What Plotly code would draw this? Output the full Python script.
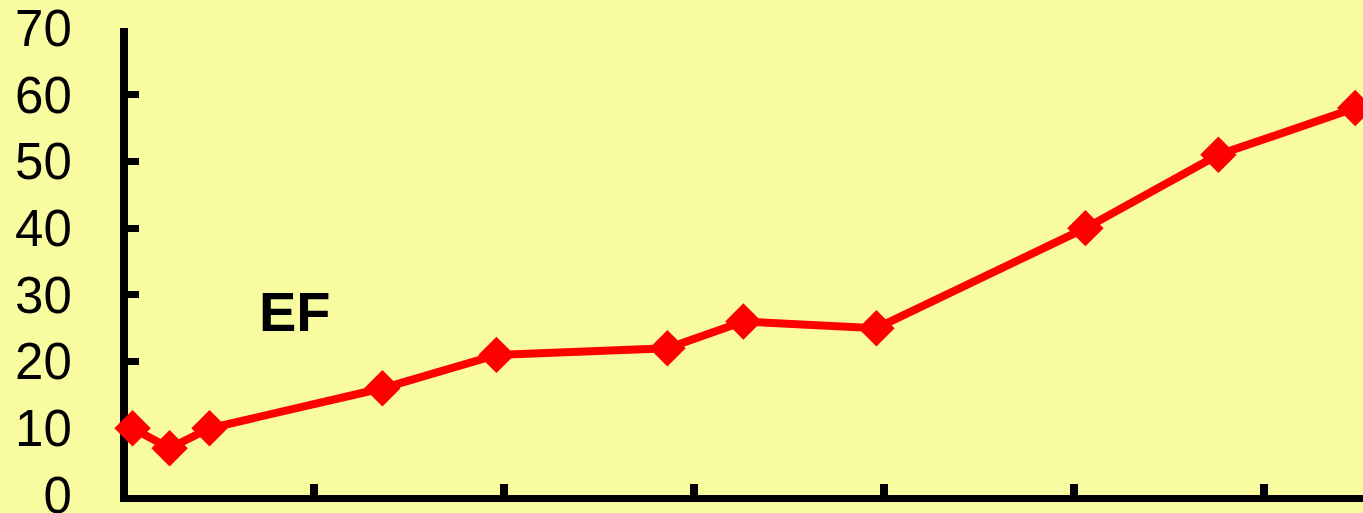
import plotly.graph_objects as go

# Data
x_vals = [0.45, 2.4, 4.5, 13.6, 19.6, 28.6, 32.6, 39.6, 50.6, 57.6, 64.8]
ef_vals = [10, 7, 10, 16, 21, 22, 26, 25, 40, 51, 58]
y_ticks = [0, 10, 20, 30, 40, 50, 60, 70]
x_ticks = [10, 20, 30, 40, 50, 60]

BG = "#F9FBA1"

fig = go.Figure()
fig.add_trace(go.Scatter(
    x=x_vals, y=ef_vals, mode="lines+markers",
    line=dict(color="#FF0000", width=8),
    marker=dict(symbol="diamond", size=28, color="#FF0000"),
    cliponaxis=False, showlegend=False,
))

fig.add_annotation(
    x=9.0, y=27.5, text="<b>EF</b>", showarrow=False,
    font=dict(family="Liberation Sans, Arial", size=56, color="black"),
)

fig.update_layout(
    width=1363, height=513,
    margin=dict(l=128, r=0, t=28, b=18, autoexpand=False),
    paper_bgcolor=BG, plot_bgcolor=BG,
    font=dict(family="Liberation Sans, Arial", color="black"),
)
fig.update_xaxes(
    range=[0.21, 65.21], tickvals=x_ticks, showticklabels=False,
    ticks="inside", ticklen=11, tickwidth=8, tickcolor="black",
    showline=True, linewidth=7, linecolor="black",
    showgrid=False, zeroline=False, layer="below traces", automargin=False,
)
fig.update_yaxes(
    range=[0, 70], tickvals=y_ticks,
    ticks="inside", ticklen=11, tickwidth=7, tickcolor="black",
    showline=True, linewidth=8, linecolor="black",
    showgrid=False, zeroline=False, layer="below traces", automargin=False,
    tickfont=dict(size=51, color="black", family="Liberation Sans, Arial"),
    ticklabelstandoff=38, ticklabeloverflow="allow",
)

fig.write_html("out.html")
